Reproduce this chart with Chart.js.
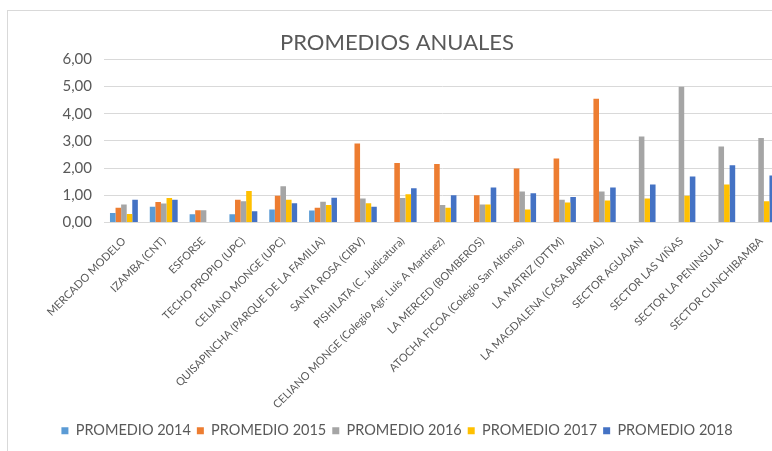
<!DOCTYPE html>
<html>
<head>
<meta charset="utf-8">
<script src="https://cdn.jsdelivr.net/npm/chart.js@4.4.1/dist/chart.umd.min.js"></script>
<style>
  html, body { margin: 0; padding: 0; background: #fff; overflow: hidden; width: 772px; height: 451px; }
  #marco { position: absolute; left: 7px; top: 10px; width: 790px; height: 445px; border: 1px solid #d9d9d9; background: #fff; }
</style>
</head>
<body>
<div id="marco"><canvas id="graficoPromedios" width="790" height="445"></canvas></div>
<script>
  // Categorías (sectores)
  const categorias = [
    'MERCADO MODELO', 'IZAMBA (CNT)', 'ESFORSE', 'TECHO PROPIO (UPC)', 'CELIANO MONGE (UPC)',
    'QUISAPINCHA (PARQUE DE LA FAMILIA)', 'SANTA ROSA (CIBV)', 'PISHILATA (C. Judicatura)',
    'CELIANO MONGE (Colegio Agr. Luis A Martínez)', 'LA MERCED (BOMBEROS)',
    'ATOCHA FICOA (Colegio San Alfonso)', 'LA MATRIZ (DTTM)', 'LA MAGDALENA (CASA BARRIAL)',
    'SECTOR AGUAJAN', 'SECTOR LAS VIÑAS', 'SECTOR LA PENINSULA', 'SECTOR CUNCHIBAMBA'
  ];

  // Promedios por año
  const promedio2014 = [0.35, 0.58, 0.30, 0.30, 0.48, 0.44, null, null, null, null, null, null, null, null, null, null, null];
  const promedio2015 = [0.54, 0.75, 0.45, 0.84, 0.98, 0.54, 2.91, 2.19, 2.15, 1.00, 1.99, 2.35, 4.55, null, null, null, null];
  const promedio2016 = [0.66, 0.70, 0.45, 0.78, 1.33, 0.76, 0.88, 0.90, 0.64, 0.66, 1.14, 0.84, 1.14, 3.16, 4.99, 2.80, 3.11];
  const promedio2017 = [0.31, 0.90, null, 1.16, 0.84, 0.64, 0.71, 1.04, 0.54, 0.66, 0.48, 0.74, 0.81, 0.88, 0.98, 1.40, 0.78];
  const promedio2018 = [0.84, 0.84, null, 0.41, 0.71, 0.91, 0.58, 1.26, 1.00, 1.29, 1.08, 0.94, 1.29, 1.40, 1.69, 2.11, 1.73];

  // Etiquetas del eje Y
  const etiquetasY = ['0,00', '1,00', '2,00', '3,00', '4,00', '5,00', '6,00'];

  const gris = '#595959';
  Chart.defaults.font.family = 'Lato, "Open Sans", sans-serif';
  Chart.defaults.color = gris;

  const datosBarras = {
    labels: categorias,
    datasets: [
      { label: 'PROMEDIO 2014', data: promedio2014, backgroundColor: '#5B9BD5' },
      { label: 'PROMEDIO 2015', data: promedio2015, backgroundColor: '#ED7D31' },
      { label: 'PROMEDIO 2016', data: promedio2016, backgroundColor: '#A5A5A5' },
      { label: 'PROMEDIO 2017', data: promedio2017, backgroundColor: '#FFC000' },
      { label: 'PROMEDIO 2018', data: promedio2018, backgroundColor: '#4472C4' }
    ]
  };

  const configBarras = {
    type: 'bar',
    data: datosBarras,
    options: {
      responsive: false,
      animation: false,
      categoryPercentage: 0.7,
      barPercentage: 1.0,
      borderWidth: 0,
      layout: {
        padding: { left: 5, right: 17, top: 0, bottom: 8 }
      },
      plugins: {
        title: {
          display: true,
          text: 'PROMEDIOS ANUALES',
          color: gris,
          font: { size: 22, weight: 'normal' },
          padding: { top: 19, bottom: 3 }
        },
        legend: {
          position: 'bottom',
          labels: {
            boxWidth: 7,
            boxHeight: 7,
            padding: 6,
            color: gris,
            font: { size: 14.5 }
          }
        },
        tooltip: { enabled: false }
      },
      scales: {
        x: {
          grid: { display: false },
          border: { display: false },
          ticks: {
            autoSkip: false,
            minRotation: 45,
            maxRotation: 45,
            padding: 4,
            color: gris,
            font: { size: 11 }
          },
          afterFit: function (escala) { escala.height = 195; }
        },
        y: {
          min: 0,
          max: 6,
          border: { display: false },
          grid: { color: '#d9d9d9', drawTicks: false },
          ticks: {
            stepSize: 1,
            padding: 12,
            color: gris,
            font: { size: 15 },
            callback: function (valor, indice) { return etiquetasY[indice]; }
          },
          afterFit: function (escala) { escala.width = 91; }
        }
      }
    }
  };

  const ctxBarras = document.getElementById('graficoPromedios').getContext('2d');
  new Chart(ctxBarras, configBarras);
</script>
</body>
</html>
